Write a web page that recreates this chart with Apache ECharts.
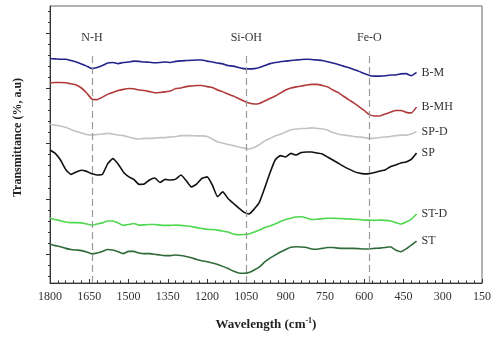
<!DOCTYPE html>
<html><head><meta charset="utf-8">
<script src="https://cdn.jsdelivr.net/npm/echarts@6/dist/echarts.min.js"></script>
<style>html,body{margin:0;padding:0;background:#fff}#c{width:499px;height:337px}</style>
</head><body><div id="c"></div>
<script>
const wavenumbers = [1800,1780,1760,1740,1720,1700,1680,1660,1640,1620,1600,1580,1560,1540,1520,1500,1480,1460,1440,1420,1400,1380,1360,1340,1320,1300,1280,1260,1240,1220,1200,1180,1160,1140,1120,1100,1080,1060,1040,1020,1000,980,960,940,920,900,880,860,840,820,800,780,760,740,720,700,680,660,640,620,600,580,560,540,520,500,480,460,440,420,400];

const seriesNames = ['B-M','B-MH','SP-D','SP','ST-D','ST'];

const valuesBM = [81.0,80.9,80.8,80.8,80.3,79.8,79.1,78.3,77.4,77.8,
  78.5,79.4,79.6,79.2,79.6,79.8,80.1,80.0,79.8,79.7,
  79.5,79.6,79.8,79.6,80.0,80.2,80.3,80.4,80.5,80.5,
  80.1,79.8,79.4,79.1,78.5,78.3,77.8,77.4,77.3,77.4,
  77.8,78.5,79.2,79.6,79.9,80.1,80.3,80.5,80.7,80.8,
  80.7,80.5,80.3,79.9,79.4,78.9,78.3,77.8,77.1,76.4,
  75.6,74.9,74.7,74.7,74.8,75.1,75.1,75.5,75.6,74.8,76.0];

const valuesBMH = [72.3,72.4,72.4,72.3,71.9,71.5,70.4,68.6,66.4,66.2,
  67.1,68.1,68.8,69.5,69.9,70.2,70.1,69.7,69.5,69.1,
  68.7,68.8,69.0,69.3,70.2,70.4,70.9,71.1,71.3,71.3,
  70.9,70.6,69.7,69.0,68.2,67.5,66.6,65.7,65.0,64.6,
  64.8,65.7,66.6,67.5,68.6,69.7,70.4,70.8,71.1,71.5,
  71.7,71.7,71.3,70.8,69.7,68.8,67.5,66.2,65.0,63.7,
  62.3,60.8,60.3,60.3,61.0,61.6,62.3,62.3,61.6,61.4,63.5];

const valuesSPD = [57.3,57.0,56.7,56.2,55.4,54.7,54.2,53.6,53.4,53.6,
  53.8,54.0,53.8,53.4,53.2,52.7,52.2,52.0,52.2,52.2,
  52.3,52.5,52.5,52.7,52.9,53.2,53.2,53.2,53.1,53.1,
  52.9,52.0,50.9,50.5,50.0,49.6,49.1,48.7,48.4,48.9,
  50.0,51.3,52.2,53.1,53.7,54.5,55.3,55.6,55.8,55.8,
  56.0,55.8,55.6,55.2,54.3,53.8,53.4,53.2,52.9,52.7,
  52.5,52.2,52.3,52.5,52.7,52.9,53.2,53.4,53.4,53.8,54.7];

const valuesSP = [48.0,46.8,44.4,41.0,39.2,40.1,40.7,40.3,39.4,39.0,
  39.2,43.0,44.9,43.0,40.1,38.4,37.4,35.6,35.7,37.2,
  37.9,36.3,37.4,37.2,37.5,39.0,37.0,34.7,35.7,37.8,
  38.3,35.4,31.2,32.9,30.5,28.8,27.1,25.6,24.9,26.7,
  29.2,34.3,39.7,44.4,46.0,45.5,46.8,46.2,47.1,47.3,
  47.3,46.9,46.6,45.5,44.4,43.3,42.2,41.2,40.3,39.7,
  39.4,39.5,39.9,40.4,40.8,42.0,42.6,43.3,43.7,44.6,46.9];

const valuesSTD = [23.4,22.9,22.5,22.0,21.8,21.8,21.7,21.3,20.9,21.3,
  21.7,22.4,22.4,21.7,20.8,21.1,21.5,20.9,21.0,21.1,
  21.1,20.9,20.8,20.8,20.9,20.8,20.6,20.4,20.0,19.7,
  19.4,19.3,19.1,18.8,18.4,17.7,17.4,17.5,17.7,18.4,
  19.1,20.0,20.6,21.3,22.2,22.9,23.4,23.8,23.9,23.5,
  22.9,23.0,23.2,23.4,23.4,23.3,23.2,23.1,23.0,22.9,
  22.7,22.7,22.6,22.7,22.6,22.4,21.8,21.3,22.0,23.1,24.9];

const valuesST = [14.0,13.5,13.1,12.5,12.1,11.9,11.7,11.2,10.5,10.8,
  11.4,12.1,11.9,11.3,10.6,11.4,11.4,10.8,10.6,10.6,
  10.4,10.1,9.9,9.9,10.1,9.9,9.6,9.1,8.5,8.0,
  7.7,7.2,6.7,6.0,5.2,4.3,3.6,3.5,3.8,4.7,
  5.8,7.6,9.0,10.1,11.2,12.1,12.9,13.1,13.0,12.8,
  12.3,12.2,12.5,12.8,12.8,12.6,12.5,12.5,12.5,12.4,
  12.3,12.3,12.5,12.6,12.8,13.1,11.9,11.3,12.3,13.7,15.1];

const bandPositions = [1640, 1050, 580];
const bandNames = ['N-H', 'Si-OH', 'Fe-O'];

const allValues = [valuesBM, valuesBMH, valuesSPD, valuesSP, valuesSTD, valuesST];
const colors = ['#23238c', '#b03a3a', '#c3c3c3', '#111111', '#4fd84f', '#2f6b38'];
const serif = '"Liberation Serif","Times New Roman",serif';

// y tick layout (no labels on the y axis)
const firstMajor = 10.5, majorStep = 19.9;
const majorTicks = [], minorTicks = [];
for (let k = 0; k < 5; k++) majorTicks.push(+(firstMajor + k * majorStep).toFixed(2));
for (let v = firstMajor - 2 * majorStep / 5; v < 100; v += majorStep / 5) minorTicks.push(+v.toFixed(2));

const series = seriesNames.map((name, i) => ({
  type: 'line',
  name: name,
  data: wavenumbers.map((w, j) => [w, allValues[i][j]]),
  showSymbol: false,
  symbol: 'none',
  smooth: 0.15,
  lineStyle: { color: colors[i], width: 1.6 },
  itemStyle: { color: colors[i] },
  endLabel: { show: true, formatter: name, align: 'left', distance: -5, fontFamily: serif, fontSize: 12, color: '#333' },
  z: 3
}));

series[0].markLine = {
  symbol: ['none', 'none'],
  silent: true,
  animation: false,
  lineStyle: { type: [7, 4], color: '#9a9a9a', width: 1.2 },
  label: { show: true, position: 'end', formatter: p => p.name, fontFamily: serif, fontSize: 12, color: '#333', distance: 8 },
  data: bandPositions.map((w, i) => [{ coord: [w, 0], name: bandNames[i] }, { coord: [w, 83.4] }])
};

const option = {
  animation: false,
  backgroundColor: '#fff',
  grid: { left: 50, right: 17, top: 6, bottom: 54, show: true, borderColor: '#666', borderWidth: 1 },
  xAxis: {
    type: 'value', inverse: true, min: 150, max: 1800, interval: 150,
    axisLine: { lineStyle: { color: '#333', width: 1 } },
    axisTick: { inside: true, length: 4, lineStyle: { color: '#333' } },
    minorTick: { show: true, splitNumber: 5, length: 2.5, lineStyle: { color: '#333' } },
    splitLine: { show: false },
    axisLabel: { formatter: v => String(v), fontFamily: serif, fontSize: 12, color: '#333', margin: 8 },
    name: '{a|Wavelength (cm}{s|-1}{a|)}',
    nameLocation: 'middle', nameGap: 34,
    nameTextStyle: {
      rich: {
        a: { fontFamily: serif, fontSize: 13, fontWeight: 'bold', color: '#222', lineHeight: 16 },
        s: { fontFamily: serif, fontSize: 8, fontWeight: 'bold', color: '#222', lineHeight: 16, verticalAlign: 'top' }
      }
    }
  },
  yAxis: [
    {
      type: 'value', min: 0, max: 100,
      axisLine: { show: true, lineStyle: { color: '#333' } },
      axisTick: { show: true, inside: false, length: 4, customValues: majorTicks, lineStyle: { color: '#333' } },
      axisLabel: { show: false },
      splitLine: { show: false },
      name: 'Transmittance (%, a.u)',
      nameLocation: 'middle', nameGap: 26,
      nameTextStyle: { fontFamily: serif, fontSize: 12, fontWeight: 'bold', color: '#222', padding: [0, 0, 0, 14] }
    },
    {
      type: 'value', min: 0, max: 100, position: 'left',
      axisLine: { show: false },
      axisTick: { show: true, inside: false, length: 2, customValues: minorTicks, lineStyle: { color: '#333' } },
      axisLabel: { show: false },
      splitLine: { show: false }
    }
  ],
  series: series
};

const chart = echarts.init(document.getElementById('c'));
chart.setOption(option);
</script>
</body></html>
